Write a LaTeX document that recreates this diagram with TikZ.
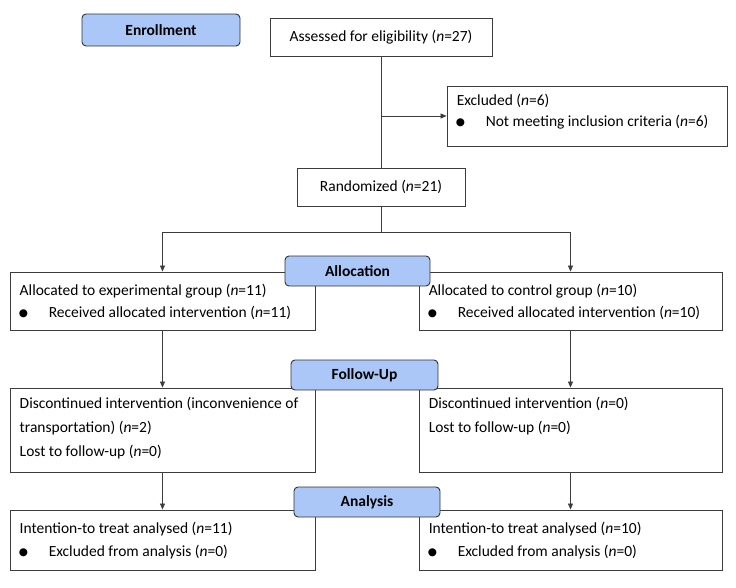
\documentclass[tikz,border=0pt]{standalone}
\usepackage{fontspec}
\setmainfont{Carlito}
\newfontfamily\symfont{DejaVu Sans}
\usetikzlibrary{arrows.meta,calc}
\definecolor{lblue}{RGB}{170,199,247}
\definecolor{lineg}{RGB}{60,60,60}
\newcommand{\bul}{\makebox[29pt][l]{\hspace*{-1pt}\raisebox{0.5pt}{\symfont\fontsize{10.5}{10}\selectfont ●}}}
\newcommand{\nn}{\textit{n}}
\begin{document}
\begin{tikzpicture}[x=1pt,y=-1pt,
  font=\fontsize{15.5}{23}\selectfont,
  box/.style={draw=lineg,line width=0.9pt,rectangle,inner sep=0pt},
  stage/.style={draw=black!80,line width=0.9pt,fill=lblue,rounded corners=4pt,inner sep=0pt,font=\fontsize{15.5}{18}\selectfont\bfseries},
  txt/.style={anchor=base west,inner sep=0pt,align=left},
  conn/.style={draw=lineg,line width=0.8pt},
  arr/.style={conn,-{Triangle[length=6pt,width=5pt]}}]
\useasboundingbox (0,0) rectangle (736,587);
% boxes
\node[stage,minimum width=158,minimum height=32] (enr) at (161,30) {Enrollment};
\node[box,minimum width=222,minimum height=38] (ass) at (381,37) {Assessed for eligibility (\nn=27)};
\node[box,minimum width=280,minimum height=60] (exc) at (587,116) {};
\node[txt,font=\fontsize{15.5}{21}\selectfont] (exct) at ($(exc.north west)+(10,40.5)$) {Excluded (\nn=6)\\\bul Not meeting inclusion criteria (\nn=6)};
\node[box,minimum width=168,minimum height=38] (ran) at (381,187) {Randomized (\nn=21)};
\node[box,minimum width=305,minimum height=58] (al1) at (162.5,301) {};
\node[box,minimum width=303,minimum height=58] (al2) at (570.5,301) {};
\node[txt,font=\fontsize{15.5}{22}\selectfont] (al1t) at ($(al1.north west)+(10,45.5)$) {Allocated to experimental group (\nn=11)\\\bul Received allocated intervention (\nn=11)};
\node[txt,font=\fontsize{15.5}{22}\selectfont] (al2t) at ($(al2.north west)+(10,45.5)$) {Allocated to control group (\nn=10)\\\bul Received allocated intervention (\nn=10)};
\node[box,minimum width=305,minimum height=84] (fo1) at (162.5,430) {};
\node[box,minimum width=303,minimum height=84] (fo2) at (570.5,430) {};
\node[txt,font=\fontsize{15.5}{24}\selectfont] (fo1t) at ($(fo1.north west)+(10,68.5)$) {Discontinued intervention (inconvenience of\\transportation) (\nn=2)\\Lost to follow-up (\nn=0)};
\node[txt,font=\fontsize{15.5}{24}\selectfont] (fo2t) at ($(fo2.north west)+(10,44.5)$) {Discontinued intervention (\nn=0)\\Lost to follow-up (\nn=0)};
\node[box,minimum width=305,minimum height=60] (an1) at (162.5,540) {};
\node[box,minimum width=303,minimum height=60] (an2) at (570.5,540) {};
\node[txt,font=\fontsize{15.5}{23}\selectfont] (an1t) at ($(an1.north west)+(10,46.5)$) {Intention-to treat analysed (\nn=11)\\\bul Excluded from analysis (\nn=0)};
\node[txt,font=\fontsize{15.5}{23}\selectfont] (an2t) at ($(an2.north west)+(10,46.5)$) {Intention-to treat analysed (\nn=10)\\\bul Excluded from analysis (\nn=0)};
% stage labels
\node[stage,minimum width=145,minimum height=30] (allo) at (357.5,271) {Allocation};
\node[stage,minimum width=147,minimum height=30] (foll) at (364.5,375) {Follow-Up};
\node[stage,minimum width=146,minimum height=30] (anal) at (367,502) {Analysis};
% connectors
\coordinate (bx) at (ass.south |- exc.west);
\coordinate (split) at (381,232);
\coordinate (sl) at (al1.north |- split);
\coordinate (sr) at (al2.north |- split);
\draw[conn] (ass.south) -- (ran.north);
\draw[arr] (bx) -- (exc.west);
\draw[conn] (ran.south) -- (split);
\draw[conn] (sl) -- (sr);
\draw[arr] (sl) -- (al1.north);
\draw[arr] (sr) -- (al2.north);
\draw[arr] (al1.south) -- (fo1.north);
\draw[arr] (al2.south) -- (fo2.north);
\draw[arr] (fo1.south) -- (an1.north);
\draw[arr] (fo2.south) -- (an2.north);
\end{tikzpicture}
\end{document}
